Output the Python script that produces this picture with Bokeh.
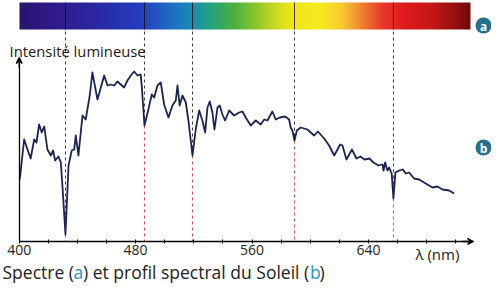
import numpy as np
from bokeh.plotting import figure
from bokeh.models import Range1d, FixedTicker, Arrow, VeeHead
from bokeh.core.properties import value
from bokeh.embed import file_html
from bokeh.resources import INLINE

# ---------------- data ----------------
wavelength_nm = [400.4, 403.4, 405.7, 407.9, 410.3, 411.9, 413.7, 415.5, 417.2, 419.4,
                 421.7, 423.3, 424.7, 427.0, 428.6, 429.7, 431.8, 433.9, 436.1, 437.8,
                 438.9, 440.7, 443.5, 445.7, 448.5, 450.3, 453.8, 458.4, 460.7, 462.9,
                 465.3, 467.5, 469.8, 472.1, 474.4, 476.7, 479.0, 481.3, 483.5, 484.2,
                 486.1, 488.8, 491.1, 492.8, 495.0, 497.3, 499.6, 502.6, 505.3, 507.6,
                 508.8, 510.3, 512.2, 514.5, 516.3, 519.1, 521.3, 523.7, 525.9, 527.8,
                 529.4, 531.0, 532.8, 534.2, 536.3, 537.8, 539.7, 541.5, 544.3, 547.7,
                 551.2, 553.4, 555.7, 559.1, 562.6, 566.0, 568.4, 570.6, 574.0, 576.3,
                 579.1, 582.8, 585.5, 586.6, 587.8, 589.2, 590.8, 593.5, 598.1, 602.7,
                 605.3, 609.6, 613.0, 616.5, 620.6, 622.2, 624.9, 628.7, 631.8, 634.5,
                 637.3, 640.7, 643.5, 646.9, 649.7, 650.4, 651.5, 653.1, 654.3, 656.0,
                 657.2, 658.6, 661.1, 663.7, 665.7, 668.0, 671.4, 674.9, 679.4, 684.0,
                 687.5, 690.9, 695.5, 698.9]
intensity = [62, 102, 92, 83, 102, 99, 117, 109, 115, 92,
             86, 91, 81, 85, 79, 56, 7, 76, 91, 92,
             106, 86, 126, 122, 146, 169, 142, 166, 156, 157,
             156, 160, 157, 154, 161, 166, 170, 166, 167, 156,
             116, 132, 147, 144, 156, 159, 137, 124, 136, 141,
             156, 136, 146, 139, 121, 86, 112, 131, 121, 109,
             134, 140, 129, 112, 134, 136, 127, 121, 131, 126,
             129, 130, 124, 116, 121, 117, 122, 121, 130, 122,
             124, 125, 122, 114, 111, 101, 111, 114, 112, 106,
             110, 103, 96, 86, 97, 96, 82, 92, 83, 85,
             82, 83, 79, 76, 77, 71, 79, 71, 74, 68,
             43, 69, 71, 72, 68, 69, 63, 62, 58, 54,
             55, 52, 51, 48]
absorption_lines_nm = [431.8, 486.1, 519.1, 589.2, 657.2]
tick_labels_nm = [400, 480, 560, 640]
minor_ticks_nm = [420, 440, 460, 500, 520, 540, 580, 600, 620, 660, 680, 700]

# ---------------- layout helpers (page pixels -> data) ----------------
X0_PX = 26.7
PX_PER_NM = 1.455
AXIS_PX = 249.0
W, H = 491, 285


def lx(px):
    return 400 + (px - X0_PX) / PX_PER_NM


def ly(py):
    return AXIS_PX - py


p = figure(width=W, height=H, output_backend="svg", toolbar_location=None,
           x_range=Range1d(lx(8), lx(8 + W)), y_range=Range1d(ly(8 + H), ly(8)),
           min_border=0, min_border_left=0, min_border_right=0,
           min_border_top=0, min_border_bottom=0)
p.outline_line_color = None
p.grid.visible = False
p.background_fill_color = "white"
p.border_fill_color = "white"

# ---------------- spectrum bar ----------------
stops_px = [27, 60, 110, 150, 180, 200, 215, 240, 265, 285, 300, 330, 350, 370, 390, 410, 440, 465, 478]
stops_col = ["#2a1470", "#301a88", "#2a2aa8", "#2440c0", "#1f6fc0", "#1a8fb0", "#20a088",
             "#48b040", "#90c828", "#d0dc20", "#f0e818", "#f8e820", "#f8c830", "#f08030",
             "#e83828", "#e01c1c", "#c41818", "#901010", "#6a0c0c"]
bar_left, bar_right, bar_top, bar_bot = 27, 478, 10, 37
ncol = bar_right - bar_left
xs = np.arange(ncol) + bar_left + 0.5
rgb = np.array([[int(c[i:i + 2], 16) for i in (1, 3, 5)] for c in stops_col], dtype=float)
img = np.zeros((1, ncol), dtype=np.uint32)
view = img.view(dtype=np.uint8).reshape((1, ncol, 4))
for k in range(3):
    view[0, :, k] = np.interp(xs, stops_px, rgb[:, k]).astype(np.uint8)
view[0, :, 3] = 255
p.image_rgba(image=[img], x=lx(bar_left), y=ly(bar_bot),
             dw=lx(bar_right) - lx(bar_left), dh=ly(bar_top) - ly(bar_bot))
p.segment(x0=absorption_lines_nm, y0=[ly(bar_bot)] * 5, x1=absorption_lines_nm,
          y1=[ly(bar_top)] * 5, line_color="#101010", line_width=1, line_alpha=0.8)

# ---------------- dashed reference lines ----------------
dip = np.interp(absorption_lines_nm, wavelength_nm, intensity)
p.segment(x0=absorption_lines_nm, y0=[ly(bar_bot + 2)] * 5, x1=absorption_lines_nm, y1=dip,
          line_color="#3a3a3a", line_width=1, line_dash="3 3")
p.segment(x0=absorption_lines_nm, y0=dip, x1=absorption_lines_nm, y1=[0] * 5,
          line_color="#cc5050", line_width=1, line_dash="3 3")

# ---------------- curve ----------------
p.line(wavelength_nm, intensity, line_color="#1c2452", line_width=1.8, line_join="round")

# ---------------- axes ----------------
xa = p.xaxis[0]
xa.fixed_location = 0
xa.bounds = (400, lx(478))
xa.ticker = FixedTicker(ticks=tick_labels_nm, minor_ticks=minor_ticks_nm)
xa.axis_line_color = "black"
xa.axis_line_width = 1.3
xa.major_tick_in = 2
xa.major_tick_out = 2
xa.minor_tick_in = 2
xa.minor_tick_out = 2
xa.major_tick_line_color = "black"
xa.minor_tick_line_color = "black"
xa.major_label_standoff = 1
xa.major_label_text_font = "Open Sans"
xa.major_label_text_font_size = "14px"
xa.major_label_text_color = "#222222"

ya = p.yaxis[0]
ya.fixed_location = 400
ya.bounds = (0, ly(66))
ya.axis_line_color = "black"
ya.axis_line_width = 1.3
ya.major_tick_line_color = None
ya.minor_tick_line_color = None
ya.major_label_text_font_size = "0px"

p.add_layout(Arrow(end=VeeHead(size=6, line_color="black", line_width=1.3),
                   x_start=lx(470), y_start=0, x_end=lx(481), y_end=0,
                   line_color="black", line_width=1.3))
p.add_layout(Arrow(end=VeeHead(size=6, line_color="black", line_width=1.3),
                   x_start=400, y_start=ly(75), x_end=400, y_end=ly(65),
                   line_color="black", line_width=1.3))

# ---------------- texts ----------------
f = value("Open Sans")
p.text(x=[lx(17)], y=[ly(58)], text=["Intensité lumineuse"], text_font=f,
       text_font_size=value("14.8px"), text_color="#1a1a1a", text_baseline="alphabetic")
p.text(x=[lx(423)], y=[ly(261)], text=["λ (nm)"], text_font=f,
       text_font_size=value("15px"), text_color="#222222", text_baseline="alphabetic")

cap_px = [10, 81, 90.5, 317.5, 327]
cap_txt = ["Spectre (", "a", ") et profil spectral du Soleil (", "b", ")"]
cap_col = ["#222222", "#2f93c4", "#222222", "#2f93c4", "#222222"]
p.text(x=[lx(v) for v in cap_px], y=[ly(279)] * 5, text=cap_txt, text_color=cap_col,
       text_font=f, text_font_size=value("17.5px"), text_baseline="alphabetic")

# circled letters
p.scatter(x=[lx(491), lx(491)], y=[ly(33), ly(155)], size=16, fill_color="#26708f",
          line_color=None)
p.text(x=[lx(491), lx(491)], y=[ly(33.5), ly(155.5)], text=["a", "b"], text_color="white",
       text_font=f, text_font_style="bold", text_font_size=value("12px"),
       text_align="center", text_baseline="middle")

open("out.html", "w").write(file_html(p, INLINE))
